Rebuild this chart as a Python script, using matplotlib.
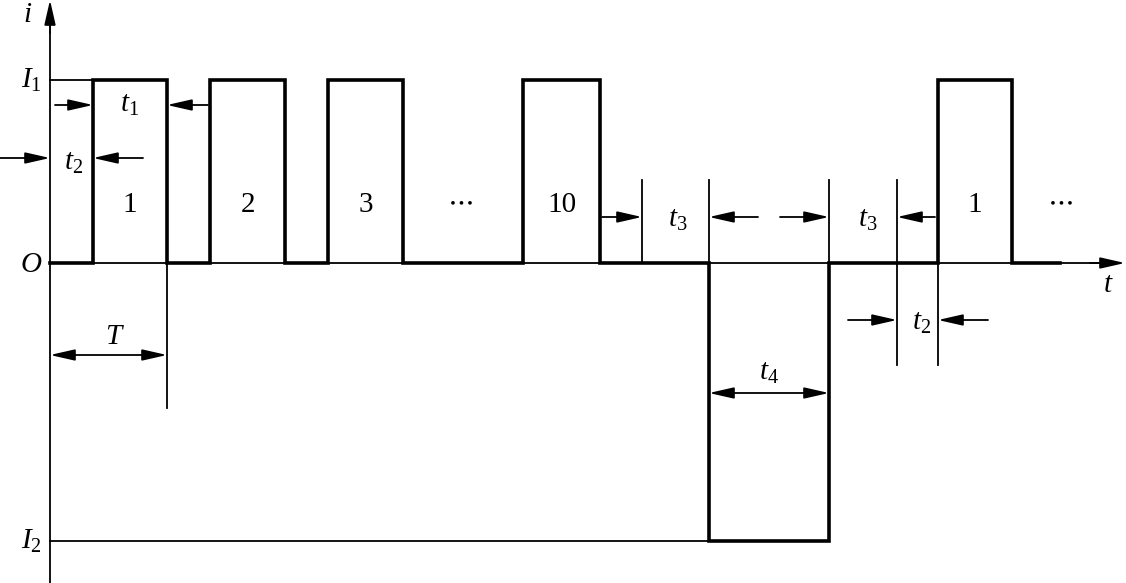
import matplotlib.pyplot as plt

plt.rcParams['mathtext.fontset'] = 'custom'
plt.rcParams['mathtext.rm'] = 'Liberation Serif'
plt.rcParams['mathtext.it'] = 'Liberation Serif:italic'
plt.rcParams['font.family'] = 'Liberation Serif'

# pulse train (t in px-like units from origin, i likewise)
I1 = 183
I2 = -278
pos_start = [43, 160, 278, 473, 888]
pos_end = [117, 235, 353, 550, 962]
pulse_labels = ['1', '2', '3', '10', '1']
neg_start = 659
neg_end = 779
t_stop = 1010

# build the waveform
wt = [0]
wi = [0]
for s, e in zip(pos_start[:4], pos_end[:4]):
    wt += [s, s, e, e]
    wi += [0, I1, I1, 0]
wt += [neg_start, neg_start, neg_end, neg_end]
wi += [0, I2, I2, 0]
wt += [pos_start[4], pos_start[4], pos_end[4], pos_end[4], t_stop]
wi += [0, I1, I1, 0, 0]

fig = plt.figure(figsize=(11.26, 5.83), dpi=100)
ax = fig.add_axes([0, 0, 1, 1])
ax.set_xlim(-50, 1076)
ax.set_ylim(-320, 263)
ax.axis('off')

thin = 1.3
thick = 2.6
head = '-|>,head_length=0.75,head_width=0.17'

# axes with arrows
ax.plot([0, 1060], [0, 0], color='black', lw=thin)
ax.plot([0, 0], [-320, 245], color='black', lw=thin)
ax.annotate('', xy=(1075, 0), xytext=(1040, 0),
            arrowprops=dict(arrowstyle=head, color='black', lw=thin, mutation_scale=20, shrinkA=0, shrinkB=0))
ax.annotate('', xy=(0, 263), xytext=(0, 230),
            arrowprops=dict(arrowstyle=head, color='black', lw=thin, mutation_scale=20, shrinkA=0, shrinkB=0))

# reference levels
ax.plot([0, pos_start[0]], [I1, I1], color='black', lw=thin)
ax.plot([0, neg_start], [I2, I2], color='black', lw=thin)

# waveform
ax.plot(wt, wi, color='black', lw=thick, solid_joinstyle='miter')

# helper vertical lines
vlines = [(117, 0, -145), (592, 83, 0), (659, 83, 0), (779, 83, 0), (847, 83, -102), (888, 0, -102)]
for x, y0, y1 in vlines:
    ax.plot([x, x], [y0, y1], color='black', lw=thin)

def arr(x0, x1, y):
    ax.annotate('', xy=(x1, y), xytext=(x0, y),
                arrowprops=dict(arrowstyle=head, color='black', lw=thin,
                                mutation_scale=20, shrinkA=0, shrinkB=0))

def darr(x0, x1, y):
    ax.annotate('', xy=(x1, y), xytext=(x0, y),
                arrowprops=dict(arrowstyle='<|-|>,head_length=0.75,head_width=0.17', color='black', lw=thin,
                                mutation_scale=20, shrinkA=0, shrinkB=0))

fs = 21
# t1
arr(5, 43, 158)
arr(158, 117, 158)
ax.text(80, 158, '$t_1$', fontsize=fs, ha='center', va='center')
# t2 top
arr(-50, 0, 105)
arr(93, 43, 105)
ax.text(24, 100, '$t_2$', fontsize=fs, ha='center', va='center')
# t3 left
arr(552, 592, 46)
arr(708, 659, 46)
ax.text(628, 43, '$t_3$', fontsize=fs, ha='center', va='center')
# t3 right
arr(730, 779, 46)
arr(885, 847, 46)
ax.text(818, 43, '$t_3$', fontsize=fs, ha='center', va='center')
# t2 lower
arr(798, 847, -57)
arr(938, 888, -57)
ax.text(872, -60, '$t_2$', fontsize=fs, ha='center', va='center')
# T
darr(0, 117, -92)
ax.text(65, -74, '$T$', fontsize=fs, ha='center', va='center')
# t4
darr(659, 779, -130)
ax.text(719, -110, '$t_4$', fontsize=fs, ha='center', va='center')

# pulse numbers and dots
for s, e, lab in zip(pos_start, pos_end, pulse_labels):
    ax.text((s + e) / 2, 58, lab, fontsize=fs, ha='center', va='center')
ax.text(410, 62, '$\\cdots$', fontsize=fs, ha='center', va='center')
ax.text(1010, 62, '$\\cdots$', fontsize=fs, ha='center', va='center')

# axis labels
ax.text(-22, 248, '$i$', fontsize=fs, ha='center', va='center')
ax.text(-8, 183, '$I_1$', fontsize=fs, ha='right', va='center')
ax.text(-8, -2, '$O$', fontsize=fs, ha='right', va='center')
ax.text(-8, -278, '$I_2$', fontsize=fs, ha='right', va='center')
ax.text(1058, -22, '$t$', fontsize=fs, ha='center', va='center')

fig.savefig('out.png', dpi=100)
